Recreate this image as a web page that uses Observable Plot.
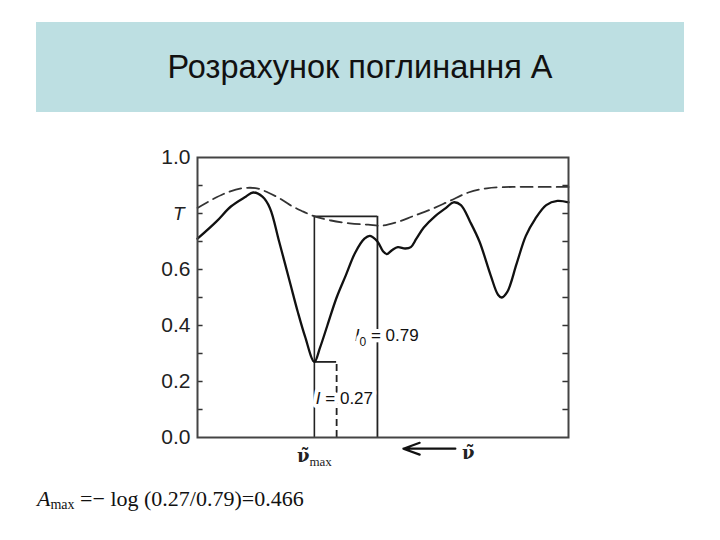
<!DOCTYPE html>
<html>
<head>
<meta charset="utf-8">
<script src="https://cdn.jsdelivr.net/npm/d3@7"></script>
<script src="https://cdn.jsdelivr.net/npm/@observablehq/plot@0.6"></script>
<style>
  html, body { margin: 0; padding: 0; background: #ffffff; }
  body { width: 720px; height: 540px; position: relative; overflow: hidden; }
  #title {
    position: absolute; left: 36px; top: 22px; width: 648px; height: 90px;
    background: #bddfe2; display: flex; align-items: center; justify-content: center;
    font-family: "Liberation Sans", Arial, sans-serif; font-size: 32.5px; color: #111;
  }
  #chart { position: absolute; left: 0; top: 130px; }
  #formula {
    position: absolute; left: 37px; top: 486px;
    font-family: "Liberation Serif", "Times New Roman", serif; font-size: 22px; color: #111;
    white-space: nowrap;
  }
  #formula sub { font-size: 14px; vertical-align: -3px; line-height: 0; }
</style>
</head>
<body>
<div id="title">Розрахунок поглинання А</div>
<div id="chart"></div>
<div id="formula"><i>A</i><sub>max</sub> =− log (0.27/0.79)=0.466</div>
<script>
// ---- data (wavenumber in arbitrary units) ----
const solidX = [0, 5, 9, 13, 15, 17.5, 19.5, 22, 25, 27, 29, 31.5, 33, 35, 37.5, 40, 42.5, 45, 46.5, 48.5, 50, 51, 52.5, 54, 56, 57.5, 59, 61, 64, 67, 69, 71, 73.5, 76, 79, 81, 82, 83.5, 86, 88.5, 91, 94, 97, 100];
const solidT = [0.71, 0.77, 0.825, 0.86, 0.875, 0.86, 0.82, 0.70, 0.55, 0.45, 0.36, 0.27, 0.32, 0.40, 0.50, 0.58, 0.66, 0.71, 0.72, 0.70, 0.665, 0.655, 0.67, 0.68, 0.675, 0.68, 0.71, 0.75, 0.79, 0.82, 0.84, 0.83, 0.77, 0.70, 0.58, 0.51, 0.50, 0.52, 0.62, 0.72, 0.78, 0.83, 0.845, 0.84];
const baseX = [0, 4, 8, 12, 16, 19, 22, 25, 28, 31.5, 36, 41, 46, 50, 54, 58, 63, 68, 73, 78, 85, 92, 100];
const baseT = [0.82, 0.85, 0.875, 0.89, 0.89, 0.875, 0.855, 0.83, 0.81, 0.79, 0.775, 0.765, 0.76, 0.757, 0.77, 0.79, 0.815, 0.845, 0.875, 0.89, 0.895, 0.895, 0.895];

const yTickValues = [0.1, 0.2, 0.3, 0.4, 0.5, 0.6, 0.7, 0.8, 0.9];
const yLabelValues = [0.0, 0.2, 0.4, 0.6, 1.0];
const yLabelTexts = ["0.0", "0.2", "0.4", "0.6", "1.0"];
const yNameValue = 0.8;
const yNameText = "T";

const nuMax = 31.5;     // position of the absorption maximum
const I0 = 0.79;        // baseline transmittance
const I = 0.27;         // transmittance at maximum
const iMarkerX = 37.5;  // dashed marker for I
const i0MarkerX = 48.5; // marker for I0
const annotTexts = ["I₀ = 0.79", "I = 0.27"];
const annotX = [51, 39.6];
const annotY = [0.364, 0.14];

const xNameTexts = ["ν̃", "ν̃"];
const xNameSubs = ["max", ""];
const xNameX = [31.5, 73];
const xNameY = [-0.068, -0.055];
const arrowFrom = 69.5, arrowTo = 55.5, arrowLevel = -0.04;

// ---- build ----
const solid = solidX.map((x, i) => ({x, t: solidT[i]}));
const base = baseX.map((x, i) => ({x, t: baseT[i]}));
const leftTickLen = 1.5, rightTickLen = 1.5;

const chart = Plot.plot({
  width: 720,
  height: 350,
  marginLeft: 197,
  marginRight: 152,
  marginTop: 27,
  marginBottom: 43,
  style: {fontFamily: "'Liberation Sans', Arial, sans-serif", background: "transparent", overflow: "visible"},
  x: {domain: [0, 100], axis: null},
  y: {domain: [0, 1], axis: null},
  marks: [
    Plot.ruleY(yTickValues, {y: d => d, x1: 0, x2: leftTickLen, stroke: "#333", strokeWidth: 1.5}),
    Plot.ruleY(yTickValues, {y: d => d, x1: 100 - rightTickLen, x2: 100, stroke: "#333", strokeWidth: 1.5}),
    Plot.ruleX([nuMax], {y1: 0, y2: I0, stroke: "#222", strokeWidth: 1.6}),
    Plot.ruleX([i0MarkerX], {y1: 0, y2: I0, stroke: "#222", strokeWidth: 1.8}),
    Plot.ruleY([I0], {x1: nuMax, x2: i0MarkerX, stroke: "#222", strokeWidth: 1.8}),
    Plot.ruleY([I], {x1: nuMax, x2: iMarkerX, stroke: "#222", strokeWidth: 1.8}),
    Plot.ruleX([iMarkerX], {y1: 0, y2: I, stroke: "#222", strokeWidth: 1.8, strokeDasharray: "7,4"}),
    Plot.line(base, {x: "x", y: "t", curve: "catmull-rom", stroke: "#333", strokeWidth: 1.8, strokeDasharray: "12,6"}),
    Plot.line(solid, {x: "x", y: "t", curve: "catmull-rom", stroke: "#111", strokeWidth: 2.3}),
    Plot.frame({stroke: "#444", strokeWidth: 2}),
    Plot.text(yLabelValues, {y: d => d, text: (d, i) => yLabelTexts[i], frameAnchor: "left", dx: -7, textAnchor: "end", fontSize: 21, fill: "#222"}),
    Plot.text([yNameValue], {y: d => d, text: () => yNameText, frameAnchor: "left", dx: -13, textAnchor: "end", fontSize: 19, fontStyle: "italic", fill: "#222"}),
    Plot.text(annotTexts, {x: (d, i) => annotX[i], y: (d, i) => annotY[i], text: d => d, fontSize: 17, fill: "#111", stroke: "white", strokeWidth: 8}),
    Plot.text(xNameTexts, {x: (d, i) => xNameX[i], y: (d, i) => xNameY[i], text: (d, i) => d + xNameSubs[i], fontSize: 18, fontFamily: "'DejaVu Serif', 'Liberation Serif', serif", fontWeight: "bold", fill: "#222"}),
    Plot.arrow([0], {x1: () => arrowFrom, x2: () => arrowTo, y1: () => arrowLevel, y2: () => arrowLevel, stroke: "#111", strokeWidth: 2.2, headLength: 12, headAngle: 40})
  ]
});

// rich-text touch-ups: italic I, subscripts
const ns = "http://www.w3.org/2000/svg";
function tspan(txt, attrs) {
  const el = document.createElementNS(ns, "tspan");
  for (const k in attrs) el.setAttribute(k, attrs[k]);
  el.textContent = txt;
  return el;
}
chart.querySelectorAll("text").forEach(t => {
  const s = t.textContent;
  if (annotTexts.includes(s)) {
    t.textContent = "";
    t.appendChild(tspan(s[0], {"font-style": "italic"}));
    let rest = s.slice(1);
    if (rest[0] === "₀") {
      t.appendChild(tspan("0", {"font-size": "12", "dy": "5"}));
      t.appendChild(tspan(rest.slice(1), {"dy": "-5"}));
    } else {
      t.appendChild(document.createTextNode(rest));
    }
  } else if (s === xNameTexts[0] + xNameSubs[0]) {
    t.textContent = "";
    t.appendChild(document.createTextNode(xNameTexts[0]));
    t.appendChild(tspan(xNameSubs[0], {"font-size": "13", "font-weight": "normal", "dy": "4", "font-family": "'Liberation Serif', serif"}));
  }
});

document.getElementById("chart").appendChild(chart);
</script>
</body>
</html>
